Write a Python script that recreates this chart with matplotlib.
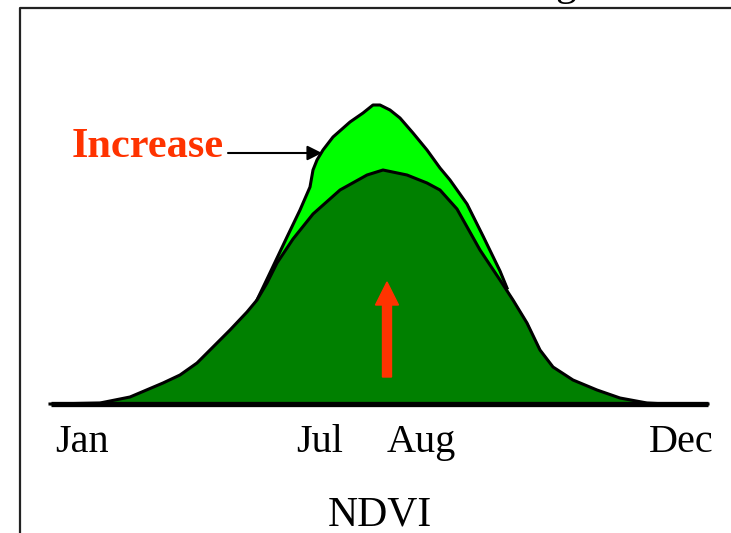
import numpy as np
import matplotlib.pyplot as plt

# schematic NDVI curves (x in chart units, y = height above baseline)
base_x = [50, 100, 130, 163, 180, 197, 213, 230, 247, 257, 267, 277, 293, 313,
          340, 367, 383, 407, 427, 440, 457, 480, 500, 513, 527, 540, 553, 573,
          597, 620, 647, 667, 708]
base_y = [0, 1, 7, 21, 29, 41, 57, 74, 92, 104, 121, 141, 165, 190,
          214, 229, 234, 229, 221, 214, 195, 154, 124, 104, 81, 54, 37, 24,
          14, 6, 1, 0, 0]

high_x = [257, 268, 287, 300, 310, 313, 317, 323, 333, 350, 363, 373, 380,
          390, 400, 413, 427, 440, 450, 467, 483, 500, 507]
high_y = [104, 127, 167, 194, 217, 234, 244, 254, 267, 282, 291, 299, 299,
          294, 286, 271, 254, 236, 224, 200, 168, 133, 116]

months = ['Jan', 'Jul', 'Aug', 'Dec']
month_pos = [82, 320, 421, 681]

serif = ['Liberation Serif', 'DejaVu Serif']

fig = plt.figure(figsize=(7.31, 5.33), dpi=100)
ax = fig.add_axes([0, 0, 1, 1])
ax.set_xlim(0, 731)
ax.set_ylim(-129, 404)
ax.axis('off')

# frame (left + top)
ax.plot([19.5, 19.5, 731], [-129, 396, 396], color='#222222', lw=1.6)

# increased curve
ax.fill_between(high_x, high_y, 0, color='#00ff00', zorder=2)
ax.plot(high_x, high_y, color='black', lw=2.2, zorder=3,
        solid_joinstyle='round')

# normal curve
ax.fill_between(base_x, base_y, 0, color='#008000', zorder=4)
ax.plot(base_x, base_y, color='black', lw=2.2, zorder=5,
        solid_joinstyle='round')

# baseline
ax.plot([51, 708], [0, 0], color='black', lw=3.8, zorder=6,
        solid_capstyle='butt')

# red arrow
ax.arrow(387, 27, 0, 95, width=9, head_width=23, head_length=23,
         length_includes_head=True, color='#ff3300', zorder=7)

# label + pointer
ax.text(72, 247, 'Increase', color='#ff3300', fontsize=30.5,
        fontweight='bold', family=serif, va='baseline', ha='left', zorder=8)
ax.annotate('', xy=(322, 251), xytext=(228, 251),
            arrowprops=dict(arrowstyle='-|>', color='black', lw=1.5,
                            mutation_scale=22, shrinkA=0, shrinkB=0), zorder=8)

for m, p in zip(months, month_pos):
    ax.text(p, -48, m, fontsize=29, family=serif, ha='center', va='baseline')

ax.text(380, -121, 'NDVI', fontsize=30, family=serif, ha='center',
        va='baseline')

# cut-off title glyph at the top
ax.text(566, 409, 'g', fontsize=30, family=serif, ha='center', va='baseline',
        clip_on=False)

fig.savefig('out.png', dpi=100)
